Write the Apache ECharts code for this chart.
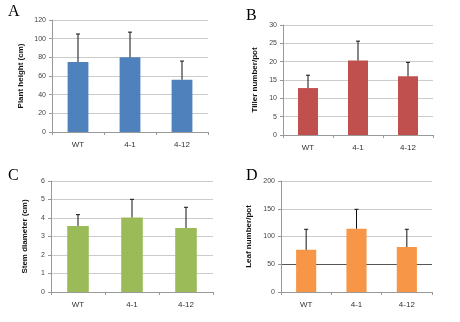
<!DOCTYPE html>
<html><head><meta charset="utf-8">
<script src="https://cdn.jsdelivr.net/npm/echarts@6/dist/echarts.min.js"></script>
<style>html,body{margin:0;padding:0;background:#fff}#c{width:460px;height:322px}</style>
</head><body><div id="c"></div>
<script>
const categories = ['WT', '4-1', '4-12'];
const heightMean = [75, 80, 56];
const heightErr = [30, 27, 20];
const tillerMean = [12.8, 20.3, 16];
const tillerErr = [3.5, 5.3, 3.8];
const stemMean = [3.57, 4.03, 3.46];
const stemErr = [0.61, 0.98, 1.12];
const leafMean = [76, 114, 81];
const leafErr = [37, 35, 32];

const panels = [
  {letter:'A', title:'Plant height (cm)', mean:heightMean, err:heightErr, max:120, interval:20, color:'#4F81BD',
   grid:{left:52, top:20, width:156, height:112}, lx:8, ly:4, nameGap:27, split:'#ccc'},
  {letter:'B', title:'Tiller number/pot', mean:tillerMean, err:tillerErr, max:30, interval:5, color:'#C0504D',
   grid:{left:283, top:25, width:150, height:110}, lx:246, ly:8, nameGap:24, split:'#ccc'},
  {letter:'C', title:'Stem diameter (cm)', mean:stemMean, err:stemErr, max:6, interval:1, color:'#9BBB59',
   grid:{left:51, top:181, width:162, height:111}, lx:8, ly:168, nameGap:22, split:'#ccc'},
  {letter:'D', title:'Leaf number/pot', mean:leafMean, err:leafErr, max:200, interval:50, color:'#F79646',
   grid:{left:281, top:181, width:151, height:111}, lx:246, ly:168, nameGap:28,
   split:['#ccc', '#555', '#ccc', '#ccc', '#ccc']}
];

const font = 'Liberation Sans, Arial, sans-serif';
const option = {animation:false, grid:[], xAxis:[], yAxis:[], series:[], graphic:[]};
panels.forEach((p, i) => {
  option.grid.push(Object.assign({containLabel:false}, p.grid));
  option.xAxis.push({type:'category', gridIndex:i, data:categories,
    axisLine:{lineStyle:{color:'#999'}}, axisTick:{show:true, length:3, lineStyle:{color:'#999'}},
    axisLabel:{color:'#333', fontSize:8, fontFamily:font, margin:9}});
  option.yAxis.push({type:'value', gridIndex:i, min:0, max:p.max, interval:p.interval,
    name:p.title, nameLocation:'middle', nameRotate:90, nameGap:p.nameGap,
    nameTextStyle:{fontSize:8, fontWeight:'bold', color:'#111', fontFamily:font},
    axisLine:{show:true, lineStyle:{color:'#999'}}, axisTick:{show:true, length:3, lineStyle:{color:'#999'}},
    axisLabel:{color:'#444', fontSize:7, fontFamily:font, margin:6},
    splitLine:{lineStyle:{color:p.split, width:1}}});
  option.series.push({type:'bar', xAxisIndex:i, yAxisIndex:i, data:p.mean, barWidth:'40%',
    itemStyle:{color:p.color}, z:2});
  option.series.push({type:'custom', xAxisIndex:i, yAxisIndex:i, z:3,
    data:p.mean.map((m, k) => [k, m, m + p.err[k]]),
    renderItem:(params, api) => {
      const lo = api.coord([api.value(0), api.value(1)]);
      const hi = api.coord([api.value(0), api.value(2)]);
      return {type:'group', children:[
        {type:'line', shape:{x1:lo[0], y1:lo[1], x2:hi[0], y2:hi[1]}, style:{stroke:'#111', lineWidth:1}},
        {type:'line', shape:{x1:hi[0]-2, y1:hi[1], x2:hi[0]+2, y2:hi[1]}, style:{stroke:'#111', lineWidth:1}}
      ]};
    }});
  option.graphic.push({type:'text', left:p.lx, top:p.ly,
    style:{text:p.letter, font:'16px "Liberation Serif", "Times New Roman", serif', fill:'#000'}});
});
const chart = echarts.init(document.getElementById('c'), null, {renderer:'canvas'});
chart.setOption(option);
</script></body></html>
